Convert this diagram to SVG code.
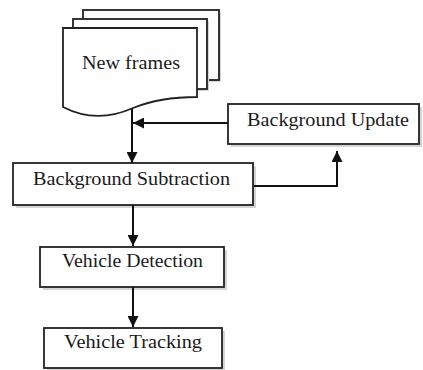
<svg xmlns="http://www.w3.org/2000/svg" width="423" height="370" viewBox="0 0 423 370">
<defs>
<style>
.box{fill:#fff;stroke:#222;stroke-width:1.8}
.sh{fill:#d4d4d4}
.lbl{font-family:"Liberation Serif",serif;font-size:18px;fill:#1a1a1a}
.con{fill:none;stroke:#111;stroke-width:2}
</style>
<marker id="ah" viewBox="0 0 10 10" refX="10" refY="5" markerWidth="11" markerHeight="11" markerUnits="userSpaceOnUse" orient="auto">
<path d="M0,0 L10,5 L0,10 z" fill="#111"/>
</marker>
</defs>
<rect width="423" height="370" fill="#fff"/>
<g id="new-frames">
<rect class="sh" x="85" y="12" width="136" height="70"/>
<rect class="box" x="83" y="10" width="136" height="70"/>
<rect class="sh" x="75" y="21" width="134" height="70"/>
<rect class="box" x="73" y="19" width="134" height="70"/>
<path class="box" d="M63,28 H197 V97 C175,97 155,99 133,108 C115,116 90,121 63,107 Z"/>
<text class="lbl" x="82" y="69" textLength="98" lengthAdjust="spacingAndGlyphs">New frames</text>
</g>
<g id="background-update">
<rect class="sh" x="231" y="107" width="191" height="40"/>
<rect class="box" x="228" y="104" width="191" height="40"/>
<text class="lbl" x="247" y="126" textLength="162" lengthAdjust="spacingAndGlyphs">Background Update</text>
</g>
<g id="background-subtraction">
<rect class="sh" x="16" y="166" width="240" height="42"/>
<rect class="box" x="13" y="163" width="240" height="42"/>
<text class="lbl" x="33" y="185" textLength="197" lengthAdjust="spacingAndGlyphs">Background Subtraction</text>
</g>
<g id="vehicle-detection">
<rect class="sh" x="43" y="250" width="184" height="40"/>
<rect class="box" x="40" y="247" width="184" height="40"/>
<text class="lbl" x="62" y="267" textLength="141" lengthAdjust="spacingAndGlyphs">Vehicle Detection</text>
</g>
<g id="vehicle-tracking">
<rect class="sh" x="47" y="331" width="178" height="39"/>
<rect class="box" x="44" y="328" width="178" height="40"/>
<text class="lbl" x="64" y="348" textLength="138" lengthAdjust="spacingAndGlyphs">Vehicle Tracking</text>
</g>
<g id="connectors">
<line class="con" x1="132" y1="109" x2="132" y2="163" marker-end="url(#ah)"/>
<line class="con" x1="228" y1="123" x2="133" y2="123" marker-end="url(#ah)"/>
<path class="con" d="M254,186 H337 V151" marker-end="url(#ah)"/>
<line class="con" x1="133" y1="205" x2="133" y2="246" marker-end="url(#ah)"/>
<line class="con" x1="133" y1="287" x2="133" y2="327" marker-end="url(#ah)"/>
</g>
</svg>
